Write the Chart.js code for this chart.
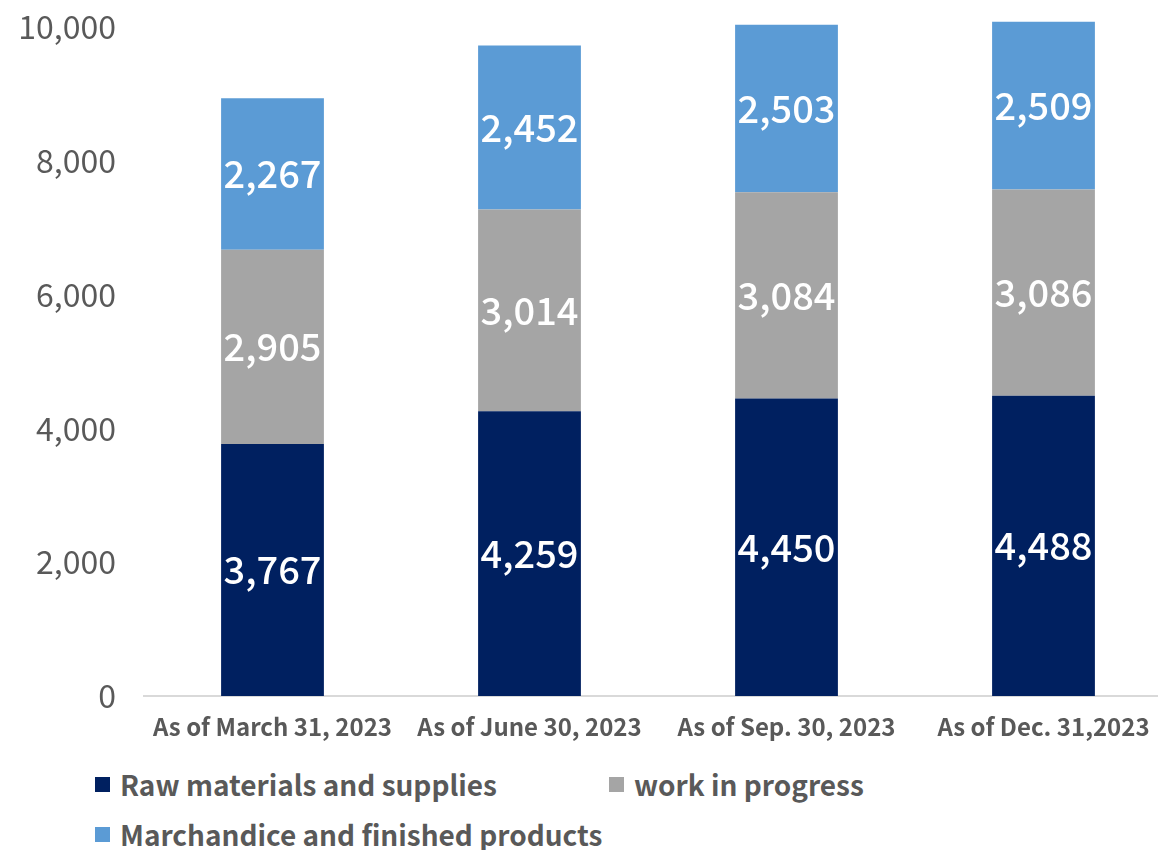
<!DOCTYPE html>
<html>
<head>
<meta charset="utf-8">
<script src="https://cdn.jsdelivr.net/npm/chart.js@4/dist/chart.umd.min.js"></script>
<style>
    body { margin: 0; overflow: hidden; background: #fff; width: 1158px; height: 850px; position: relative; }
    #wrap { position: absolute; left: 0; top: -20px; width: 1172px; height: 780px; }
    .legend { position: absolute; font-family: "Noto Sans CJK JP", "Noto Sans", sans-serif; font-weight: bold; font-size: 28px; color: #595959; display: flex; align-items: center; white-space: nowrap; }
    .legend span.box { display: inline-block; width: 15px; height: 15px; margin-right: 10px; }
</style>
</head>
<body>
<div id="wrap"><canvas id="chart"></canvas></div>
<div id="legend"></div>
<script>
const categories = ['As of March 31, 2023', 'As of June 30, 2023', 'As of Sep. 30, 2023', 'As of Dec. 31,2023'];
const seriesNames = ['Raw materials and supplies', 'work in progress', 'Marchandice and finished products'];
const rawMaterials = [3767, 4259, 4450, 4488];
const workInProgress = [2905, 3014, 3084, 3086];
const merchandise = [2267, 2452, 2503, 2509];
const yTicks = [0, 2000, 4000, 6000, 8000, 10000];

const colors = ['#002060', '#a5a5a5', '#5b9bd5'];
const FONT = '"Noto Sans CJK JP", "Noto Sans", sans-serif';

const segmentLabels = {
    id: 'segmentLabels',
    afterDatasetsDraw(chart) {
        const c = chart.ctx;
        c.save();
        c.font = '500 38px ' + FONT;
        c.fillStyle = '#ffffff';
        c.textAlign = 'center';
        c.textBaseline = 'middle';
        chart.data.datasets.forEach((ds, i) => {
            const meta = chart.getDatasetMeta(i);
            meta.data.forEach((bar, j) => {
                const y = (bar.y + bar.base) / 2;
                c.fillText(ds.data[j].toLocaleString('en-US'), bar.x, y);
            });
        });
        c.restore();
    }
};

const ctx = document.getElementById('chart').getContext('2d');
const chart = new Chart(ctx, {
    type: 'bar',
    data: {
        labels: categories,
        datasets: [rawMaterials, workInProgress, merchandise].map((d, i) => ({
            label: seriesNames[i],
            data: d,
            backgroundColor: colors[i],
            borderWidth: 0,
            barPercentage: 0.4,
            categoryPercentage: 1,
            clip: false
        }))
    },
    options: {
        responsive: true,
        maintainAspectRatio: false,
        animation: false,
        layout: { padding: { top: 8, left: 0, right: 0, bottom: 0 } },
        plugins: {
            legend: { display: false },
            tooltip: { enabled: false }
        },
        scales: {
            x: {
                stacked: true,
                grid: { display: false, drawTicks: false },
                border: { display: true, color: '#d9d9d9', width: 2 },
                ticks: {
                    color: '#595959',
                    font: { family: FONT, size: 24, weight: 'bold' },
                    padding: 16,
                    maxRotation: 0
                },
                afterFit(scale) { scale.height = 64; }
            },
            y: {
                stacked: true,
                min: 0,
                max: 10000,
                afterBuildTicks(scale) { scale.ticks = yTicks.map(v => ({ value: v })); },
                grid: { display: false, drawTicks: false },
                border: { display: false },
                ticks: {
                    color: '#595959',
                    font: { family: FONT, size: 32 },
                    padding: 28,
                    callback: v => v.toLocaleString('en-US')
                },
                afterFit(scale) { scale.width = 144; }
            }
        }
    },
    plugins: [segmentLabels]
});

// legend in two rows like the original
const legendPos = [
    { left: 95, top: 785 },
    { left: 609, top: 785 },
    { left: 95, top: 835 }
];
const legendEl = document.getElementById('legend');
seriesNames.forEach((name, i) => {
    const item = document.createElement('div');
    item.className = 'legend';
    item.style.left = legendPos[i].left + 'px';
    item.style.top = (legendPos[i].top - 21) + 'px';
    item.style.height = '40px';
    const box = document.createElement('span');
    box.className = 'box';
    box.style.background = colors[i];
    item.appendChild(box);
    item.appendChild(document.createTextNode(name));
    legendEl.appendChild(item);
});
</script>
</body>
</html>
